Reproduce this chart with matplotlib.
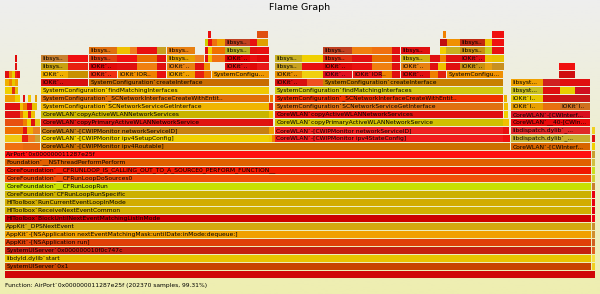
import numpy as np
import matplotlib
matplotlib.use("Agg")
import matplotlib.pyplot as plt
from matplotlib.colors import LinearSegmentedColormap

# flame frames: (level, start, end, label, colour)
# start/end are sample buckets, the root frame covers 0..590
total_width = 590
top_level = 31

base_stack = [
    (0, 0, 590, "", "#d00808"),
    (1, 0, 586.5, "SystemUIServer`0x1", "#c84400"),
    (2, 0, 586.5, "libdyld.dylib`start", "#e8c400"),
    (3, 0, 586.5, "SystemUIServer`0x000000010f0c747c", "#c42010"),
    (4, 0, 586.5, "AppKit`-[NSApplication run]", "#e04008"),
    (5, 0, 586.5, "AppKit`-[NSApplication nextEventMatchingMask:untilDate:inMode:dequeue:]", "#f0a000"),
    (6, 0, 586.5, "AppKit`_DPSNextEvent", "#d4a810"),
    (7, 0, 586.5, "HIToolbox`BlockUntilNextEventMatchingListInMode", "#cc0000"),
    (8, 0, 586.5, "HIToolbox`ReceiveNextEventCommon", "#d0b000"),
    (9, 0, 586.5, "HIToolbox`RunCurrentEventLoopInMode", "#d2ac00"),
    (10, 0, 586.5, "CoreFoundation`CFRunLoopRunSpecific", "#ccb000"),
    (11, 0, 586.5, "CoreFoundation`__CFRunLoopRun", "#c8e000"),
    (12, 0, 586.5, "CoreFoundation`__CFRunLoopDoSources0", "#f05008"),
    (13, 0, 586.5, "CoreFoundation`__CFRUNLOOP_IS_CALLING_OUT_TO_A_SOURCE0_PERFORM_FUNCTION__", "#f01800"),
    (14, 0, 586.5, "Foundation`__NSThreadPerformPerform", "#e06000"),
    (15, 0, 586.5, "AirPort`0x000000011287e25f", "#ff1010"),
]

tail_levels = list(range(1, 19))
tail_colours = ["#f0d020", "#f8e040", "#e06020", "#d06020", "#d09030", "#c89030",
                "#f00010", "#e00010", "#e80010", "#e80010", "#c88030", "#d0d030",
                "#c8e020", "#d0c040", "#c8a030", "#f0d000", "#e01010", "#f0d020"]
tail_start, tail_end = 586.5, 590

left_cluster = [
    (16, 0, 18, "", "#f07010"), (16, 18, 35, "", "#e86a10"),
    (17, 0, 17, "", "#f0c810"), (17, 17, 23, "", "#e82010"), (17, 23, 30, "", "#f08020"), (17, 30, 35, "", "#d0a030"),
    (18, 0, 18, "", "#f07000"), (18, 18, 22, "", "#e01010"), (18, 22, 28, "", "#f0b000"), (18, 28, 35, "", "#e88020"),
    (19, 0, 18, "", "#e85010"), (19, 18, 22, "", "#f08000"), (19, 22, 26, "", "#f0d000"), (19, 26, 30, "", "#e01010"), (19, 30, 35, "", "#e8c010"),
    (20, 0, 15, "", "#e01010"), (20, 15, 18, "", "#f07000"), (20, 18, 23, "", "#f0d000"), (20, 23, 26, "", "#e01818"), (20, 26, 30, "", "#f0c000"),
    (21, 0, 15, "", "#e01010"), (21, 15, 18, "", "#f0c000"), (21, 18, 22, "", "#f08000"), (21, 22, 27, "", "#e01010"), (21, 27, 32, "", "#e8c000"),
    (22, 0, 10, "", "#f0a000"), (22, 10, 15, "", "#f0d000"), (22, 18, 20, "", "#e01010"), (22, 23, 26, "", "#f0c800"), (22, 30, 32, "", "#e8a000"),
    (23, 0, 7, "", "#f0d000"), (23, 7, 10, "", "#e03010"), (23, 10, 13, "", "#e8c000"),
    (24, 0, 4, "", "#f0b000"), (24, 4, 7, "", "#f08000"), (24, 7, 10, "", "#e8c800"), (24, 10, 13, "", "#f0a000"),
    (25, 0, 4, "", "#e01010"), (25, 4, 7, "", "#f09000"), (25, 7, 10, "", "#e8d000"), (25, 10, 12, "", "#f02010"), (25, 12, 15, "", "#e01010"),
    (26, 10, 12, "", "#e01010"),
    (27, 10, 12, "", "#e00808"),
]

setup_tree = [
    (16, 36, 505, "CoreWLAN`-[CWIPMonitor ipv4Routable]", "#cc7000"),
    (17, 36, 264, "CoreWLAN`-[CWIPMonitor ipv4SetupConfig]", "#f0d000"),
    (18, 36, 264, "CoreWLAN`-[CWIPMonitor networkServiceID]", "#c88010"),
    (19, 36, 264, "CoreWLAN`copyPrimaryActiveWLANNetworkService", "#e01410"),
    (20, 36, 264, "CoreWLAN`copyActiveWLANNetworkServices", "#c8b400"),
    (21, 36, 264, "SystemConfiguration`SCNetworkServiceGetInterface", "#f0b400"),
    (22, 36, 264, "SystemConfiguration`_SCNetworkInterfaceCreateWithEntit..", "#e07008"),
    (23, 36, 264, "SystemConfiguration`findMatchingInterfaces", "#f0c800"),
    (24, 36, 83, "IOKit`..", "#d81010"), (24, 84, 264, "SystemConfiguration`createInterface", "#c86c00"),
    (25, 36, 63, "IOKit`..", "#f0b000"), (25, 63, 83, "", "#c89000"), (25, 84, 112, "IOKit`..", "#f03010"),
    (25, 113, 142, "IOKit`IOR..", "#f09000"), (25, 142, 152, "", "#f08000"), (25, 152, 161, "", "#e81010"),
    (25, 162, 190, "IOKit`..", "#f0a000"), (25, 190, 199, "", "#e82010"), (25, 199, 206, "", "#f07000"),
    (25, 207, 264, "SystemConfigu...", "#f09800"),
    (26, 36, 63, "libsys..", "#c8a010"), (26, 63, 83, "", "#e82010"), (26, 84, 112, "IOKit`..", "#e00a0a"),
    (26, 112, 132, "", "#e01010"), (26, 132, 152, "", "#f08010"), (26, 152, 161, "", "#e01010"),
    (26, 162, 190, "IOKit`..", "#e88010"), (26, 190, 199, "", "#e01010"), (26, 199, 205, "", "#f09000"),
    (26, 220, 245, "IOKit`..", "#e01010"), (26, 245, 252, "", "#e00808"), (26, 252, 264, "", "#e81818"),
    (27, 36, 63, "libsys..", "#c88030"), (27, 63, 83, "", "#f01010"), (27, 84, 112, "libsys..", "#e04010"),
    (27, 112, 132, "", "#f01010"), (27, 132, 152, "", "#e87000"), (27, 152, 161, "", "#e01010"),
    (27, 162, 190, "libsys..", "#e8a000"), (27, 190, 199, "", "#f08020"), (27, 200, 203, "", "#e01010"),
    (27, 203, 207, "", "#f0c000"), (27, 207, 220, "", "#f07010"), (27, 220, 245, "IOKit`..", "#e00000"),
    (27, 245, 252, "", "#e81010"), (27, 252, 264, "", "#e00808"),
    (28, 84, 112, "libsys..", "#e07010"), (28, 112, 125, "", "#f0c000"), (28, 125, 132, "", "#f08020"),
    (28, 132, 152, "", "#e81010"), (28, 152, 161, "", "#c8a020"), (28, 162, 190, "libsys..", "#e88010"),
    (28, 200, 203, "", "#e01010"), (28, 203, 207, "", "#f0d000"), (28, 207, 220, "", "#f07000"),
    (28, 220, 245, "libsys..", "#b8b020"), (28, 245, 252, "", "#e01010"), (28, 252, 264, "", "#e81010"),
    (29, 200, 203, "", "#d0d000"), (29, 203, 207, "", "#e81010"), (29, 207, 212, "", "#f07010"),
    (29, 212, 220, "", "#f0a000"), (29, 220, 245, "libsys..", "#c04020"), (29, 245, 252, "", "#e81010"),
    (29, 252, 263, "", "#e0a000"),
    (30, 203, 206, "", "#e81010"), (30, 252, 263, "", "#e05010"),
    (17, 264, 267, "", "#f0c800"), (17, 267, 270, "", "#f08000"), (18, 264, 269, "", "#f0a000"),
    (19, 264, 268, "", "#e01010"), (20, 264, 268, "", "#f0c800"), (21, 264, 268, "", "#e02010"),
    (22, 265, 268, "", "#f08000"),
]

state_tree = [
    (17, 270, 498, "CoreWLAN`-[CWIPMonitor ipv4StateConfig]", "#f01c1c"),
    (18, 270, 498, "CoreWLAN`-[CWIPMonitor networkServiceID]", "#ee2020"),
    (19, 270, 498, "CoreWLAN`copyPrimaryActiveWLANNetworkService", "#d0c000"),
    (20, 270, 498, "CoreWLAN`copyActiveWLANNetworkServices", "#e01010"),
    (21, 270, 498, "SystemConfiguration`SCNetworkServiceGetInterface", "#e07010"),
    (22, 270, 498, "SystemConfiguration`_SCNetworkInterfaceCreateWithEntit..", "#f03000"),
    (23, 270, 498, "SystemConfiguration`findMatchingInterfaces", "#d0c810"),
    (24, 270, 302, "IOKit`..", "#d81010"), (24, 302, 318, "", "#f05020"),
    (24, 318, 498, "SystemConfiguration`createInterface", "#c88000"),
    (25, 270, 297, "IOKit`..", "#e89000"), (25, 297, 318, "", "#f0d010"), (25, 318, 347, "IOKit`..", "#e01020"),
    (25, 348, 377, "IOKit`IOR..", "#e81818"), (25, 377, 387, "", "#f08000"), (25, 387, 395, "", "#e01010"),
    (25, 396, 425, "IOKit`..", "#e01010"), (25, 425, 433, "", "#f08000"), (25, 433, 441, "", "#e02010"),
    (25, 442, 498, "SystemConfigu...", "#f09000"),
    (26, 270, 297, "libsys..", "#c8a020"), (26, 297, 318, "", "#e81010"), (26, 318, 347, "IOKit`..", "#e00a0a"),
    (26, 347, 367, "", "#e81010"), (26, 367, 387, "", "#f08010"), (26, 387, 395, "", "#e01010"),
    (26, 396, 425, "IOKit`..", "#e88010"), (26, 425, 433, "", "#e01010"), (26, 433, 441, "", "#f0c000"),
    (26, 441, 455, "", "#e01010"), (26, 455, 480, "IOKit`..", "#c89010"), (26, 480, 487, "", "#e8a010"),
    (26, 487, 499, "", "#c89020"),
    (27, 270, 297, "libsys..", "#c8b020"), (27, 297, 318, "", "#f0d000"), (27, 318, 347, "libsys..", "#e03010"),
    (27, 347, 367, "", "#e01010"), (27, 367, 387, "", "#e87000"), (27, 387, 395, "", "#e01010"),
    (27, 396, 425, "libsys..", "#d0b010"), (27, 425, 435, "", "#e01010"), (27, 435, 441, "", "#f08000"),
    (27, 441, 455, "", "#e01010"), (27, 455, 480, "IOKit`..", "#e01010"), (27, 480, 487, "", "#f0c000"),
    (27, 487, 499, "", "#e8c000"),
    (28, 318, 347, "libsys..", "#c04020"), (28, 347, 367, "", "#f08010"), (28, 367, 387, "", "#f07010"),
    (28, 387, 395, "", "#e01010"), (28, 396, 425, "libsys..", "#e01010"), (28, 435, 441, "", "#f0d000"),
    (28, 441, 455, "", "#c8b020"), (28, 455, 480, "libsys..", "#c89010"), (28, 480, 487, "", "#c8d020"),
    (28, 487, 499, "", "#e81010"),
    (29, 435, 442, "", "#c01010"), (29, 442, 455, "", "#f09000"), (29, 455, 480, "libsys..", "#c02810"),
    (29, 480, 487, "", "#f0c000"), (29, 487, 499, "", "#f01010"),
    (30, 438, 441, "", "#f08000"), (30, 487, 499, "", "#f01010"),
    (17, 498, 505, "", "#f01010"), (18, 498, 504, "", "#e81010"), (19, 498, 504, "", "#f0c000"),
    (20, 499, 503, "", "#f0d000"), (21, 499, 503, "", "#f0c000"), (22, 499, 502, "", "#e8b000"),
]

wlan_cluster = [
    (16, 506, 585, "CoreWLAN`-[CWInterf...", "#d86400"),
    (17, 506, 585, "libdispatch.dylib`_...", "#c8b030"),
    (18, 506, 585, "libdispatch.dylib`_...", "#e02828"),
    (19, 506, 585, "CoreWLAN`__40-[CWIn...", "#e80a0a"),
    (20, 506, 585, "CoreWLAN`-[CWInterf...", "#d81020"),
    (21, 506, 538, "IOKit`I..", "#e8a000"), (21, 538, 555, "", "#e87010"), (21, 555, 585, "IOKit`I..", "#d07020"),
    (22, 506, 538, "IOKit`I..", "#e8c800"), (22, 538, 555, "", "#d01010"), (22, 555, 585, "", "#c81818"),
    (23, 506, 538, "libsyst...", "#c8c020"), (23, 538, 555, "", "#e01010"), (23, 555, 570, "", "#e8d000"),
    (23, 570, 585, "", "#d01020"),
    (24, 506, 538, "libsyst...", "#f0a000"), (24, 538, 555, "", "#d02020"), (24, 555, 585, "", "#e01010"),
    (25, 554, 570, "", "#d01010"),
    (26, 554, 570, "", "#f01010"),
]

title = "Flame Graph"
details = "Function: AirPort`0x000000011287e25f (202370 samples, 99.31%)"

tail_stack = [(lv, tail_start, tail_end, "", c) for lv, c in zip(tail_levels, tail_colours)]
frames = base_stack + tail_stack + left_cluster + setup_tree + state_tree + wlan_cluster

fig = plt.figure(figsize=(6, 2.94), dpi=100)

# background gradient like flamegraph.pl
bg = fig.add_axes([0, 0, 1, 1])
grad = np.linspace(0, 1, 256).reshape(-1, 1)
bg.imshow(grad, aspect="auto", cmap=LinearSegmentedColormap.from_list("bg", ["#eeeeee", "#eeeeb0"]))
bg.axis("off")

ax = fig.add_axes([5 / 600, 16 / 294, 590 / 600, 248 / 294])
ax.set_xlim(0, total_width)
ax.set_ylim(0, top_level)
ax.axis("off")
ax.patch.set_alpha(0)

row_h = 0.875
for lv, x0, x1, label, col in frames:
    bar = ax.bar(x0, row_h, width=x1 - x0 - 0.5, bottom=lv, align="edge",
                 color=col, edgecolor="none")[0]
    if label:
        t = ax.text(x0 + 1.3, lv + row_h / 2, label, fontsize=4.3, va="center", ha="left",
                    color="black")
        t.set_clip_path(bar)

fig.text(0.5, 1 - 7.5 / 294, title, ha="center", va="center", fontsize=6.8, color="black")
fig.text(5 / 600, 1 - 285 / 294, details, ha="left", va="center", fontsize=4.3, color="black")

fig.savefig("out.png", dpi=100)
